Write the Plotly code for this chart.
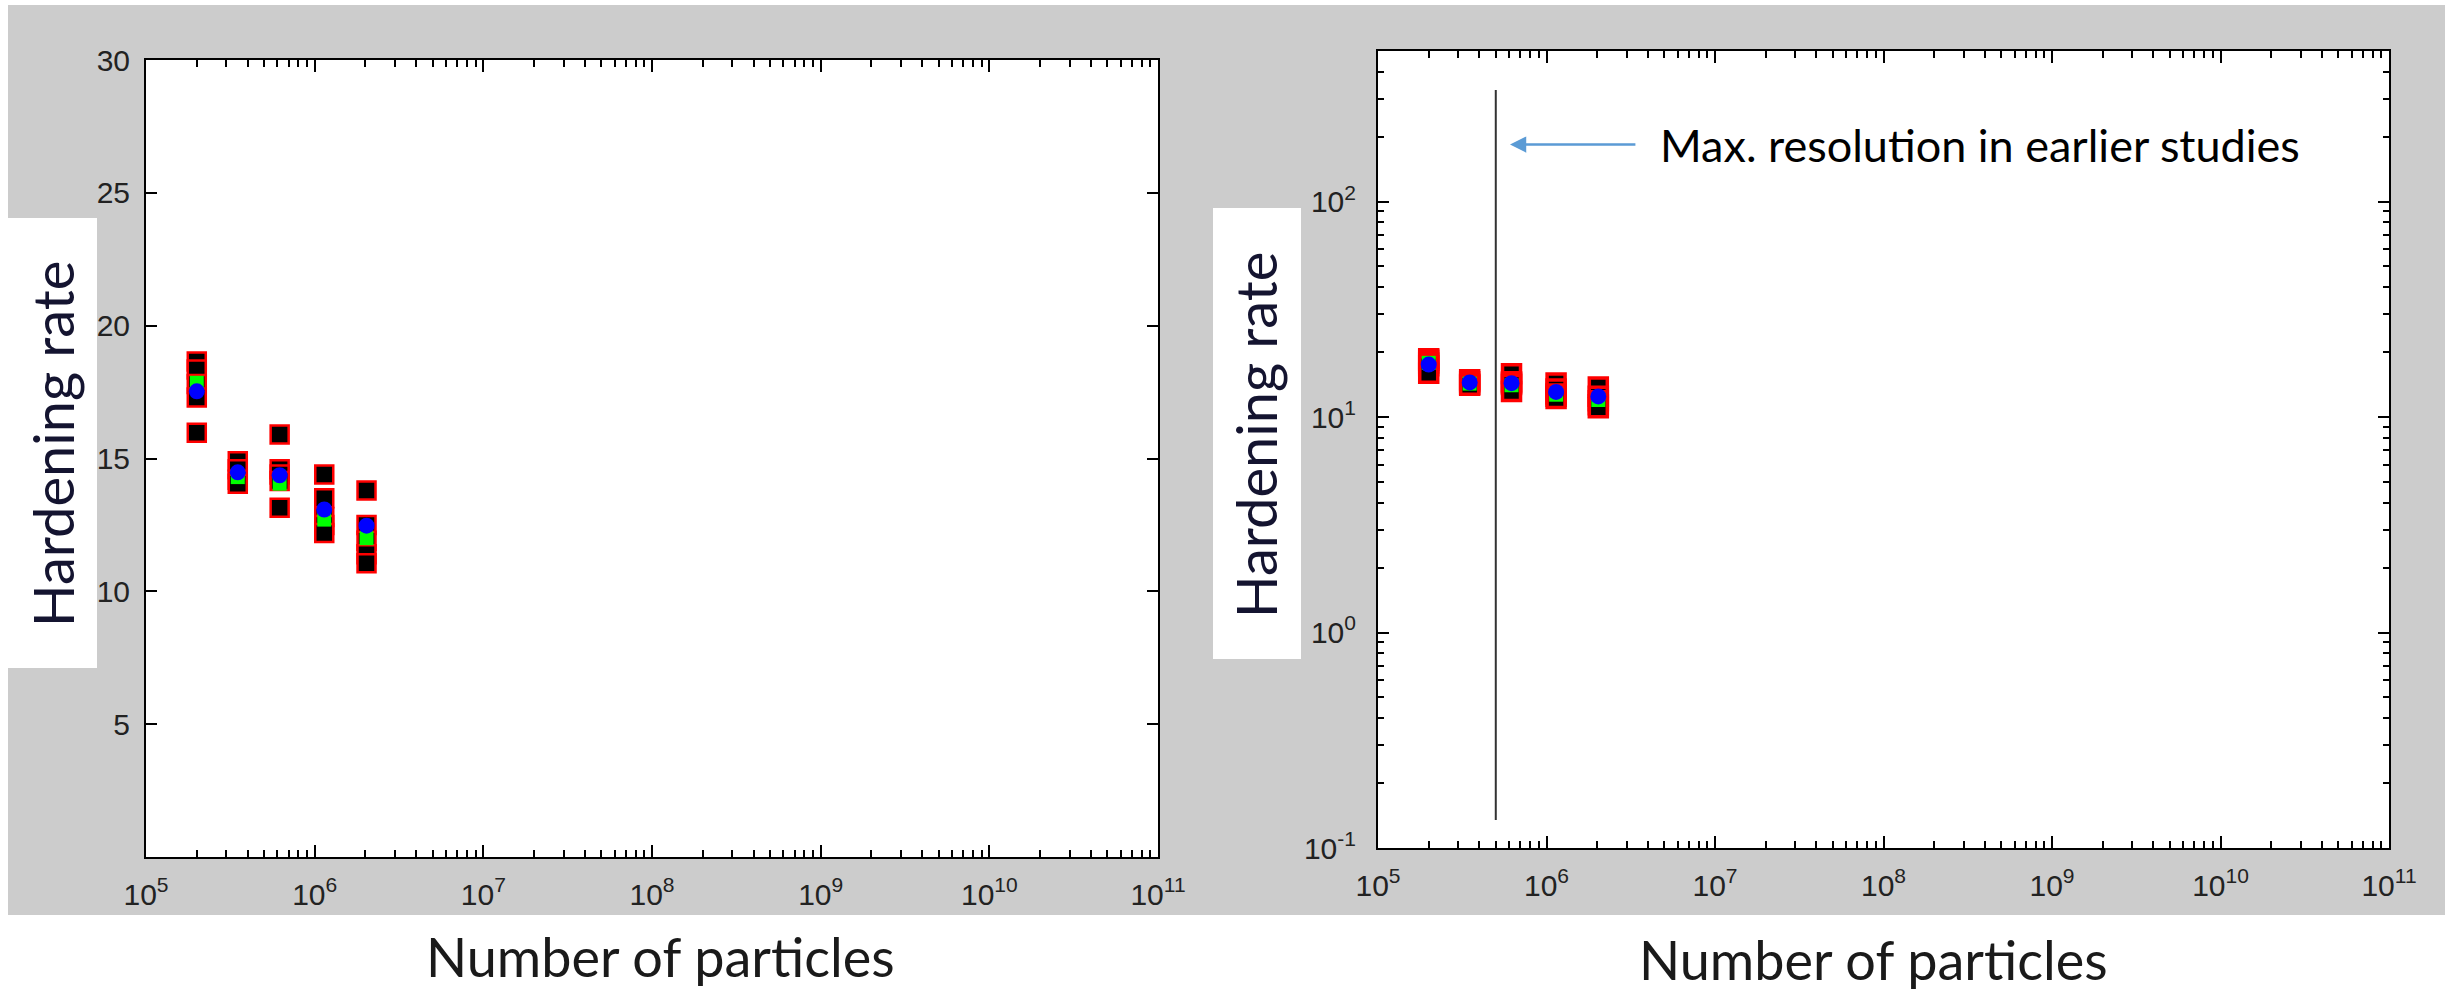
import numpy as np
import plotly.graph_objects as go

W, H = 2445, 995

# ---------------- data ----------------
particles = [2.0e5, 3.5e5, 6.2e5, 1.14e6, 2.03e6]
runs = [
    [18.65, 18.35, 17.8, 17.3, 15.97],
    [14.9, 14.6, 14.2, 14.05],
    [15.9, 14.6, 14.4, 14.15, 13.15],
    [14.4, 13.5, 12.8, 12.5, 12.2],
    [13.8, 12.5, 11.9, 11.4, 11.06],
]
median_vals = [17.85, 14.3, 14.05, 12.7, 12.0]
mean_vals = [17.53, 14.48, 14.37, 13.08, 12.47]

left_yticks = [5, 10, 15, 20, 25, 30]
x_decades = [5, 6, 7, 8, 9, 10, 11]
right_y_decades = [-1, 0, 1, 2]

line_x = [5e5, 5e5]
line_y = [0.135, 330]

arrow_tip_x, arrow_tail_x, arrow_y = 6.07e5, 3.44e6, 184
note_x = 4.59e6
note_text = "Max. resolution in earlier studies"
xlabel = "Number of particles"
ylabel = "Hardening rate"

# flatten runs
run_x = [particles[i] for i, g in enumerate(runs) for _ in g]
run_y = [v for g in runs for v in g]

# ---------------- figure ----------------
fig = go.Figure()

def add_panel(xa, ya, edge_w):
    fig.add_trace(go.Scatter(
        x=run_x, y=run_y, mode="markers", xaxis=xa, yaxis=ya,
        marker=dict(symbol="square", size=18, color="black",
                    line=dict(color="#FF0000", width=edge_w)),
        showlegend=False, hoverinfo="skip"))
    fig.add_trace(go.Scatter(
        x=particles, y=median_vals, mode="markers", xaxis=xa, yaxis=ya,
        marker=dict(symbol="square", size=14, color="#00FF00",
                    line=dict(width=0)),
        showlegend=False, hoverinfo="skip"))
    fig.add_trace(go.Scatter(
        x=particles, y=mean_vals, mode="markers", xaxis=xa, yaxis=ya,
        marker=dict(symbol="circle", size=16, color="#0000FF",
                    line=dict(width=0)),
        showlegend=False, hoverinfo="skip"))

add_panel("x", "y", 2.5)

fig.add_trace(go.Scatter(
    x=line_x, y=line_y, mode="lines", xaxis="x2", yaxis="y2",
    line=dict(color="#333333", width=2), showlegend=False, hoverinfo="skip"))
add_panel("x2", "y2", 3.5)

tickfont = dict(family="Liberation Sans, Arial, sans-serif", size=30, color="#222222")

x_minor = [m * 10.0 ** k for k in x_decades[:-1] for m in range(2, 10)]
y2_minor = [m * 10.0 ** k for k in right_y_decades for m in range(2, 10) if m * 10.0 ** k <= 500]

def xaxis_common(domain, anchor):
    return dict(
        type="log", domain=domain, anchor=anchor,
        range=[x_decades[0], x_decades[-1]],
        tickmode="array",
        tickvals=[10.0 ** k for k in x_decades],
        ticktext=["10<sup>%d</sup>" % k for k in x_decades],
        ticks="inside", ticklen=12, tickwidth=2, tickcolor="black",
        minor=dict(tickmode="array", tickvals=x_minor, ticks="inside",
                   ticklen=7, tickwidth=2, tickcolor="black", showgrid=False),
        showline=True, linecolor="black", linewidth=2, mirror="ticks",
        showgrid=False, zeroline=False, tickfont=tickfont,
        ticklabelstandoff=10, automargin=False,
    )

px = lambda v: v / W
py = lambda v: 1 - v / H

fig.update_layout(
    template="none",
    width=W, height=H,
    autosize=False,
    margin=dict(l=0, r=0, t=0, b=0, pad=0, autoexpand=False),
    paper_bgcolor="#CCCCCC",
    plot_bgcolor="white",
    showlegend=False,
    xaxis=xaxis_common([px(146), px(1158)], "y"),
    yaxis=dict(
        domain=[py(857), py(60)], anchor="x", range=[0, 30],
        tickmode="array", tickvals=left_yticks,
        ticks="inside", ticklen=11, tickwidth=2, tickcolor="black",
        showline=True, linecolor="black", linewidth=2, mirror="ticks",
        showgrid=False, zeroline=False, tickfont=tickfont,
        ticklabelstandoff=8, automargin=False,
    ),
    xaxis2=xaxis_common([px(1378), px(2389)], "y2"),
    yaxis2=dict(
        type="log", domain=[py(848), py(51)], anchor="x2",
        range=[-1, np.log10(500)],
        tickmode="array",
        tickvals=[10.0 ** k for k in right_y_decades],
        ticktext=["10<sup>%d</sup>" % k for k in right_y_decades],
        ticks="inside", ticklen=11, tickwidth=2, tickcolor="black",
        minor=dict(tickmode="array", tickvals=y2_minor, ticks="inside",
                   ticklen=6, tickwidth=2, tickcolor="black", showgrid=False),
        showline=True, linecolor="black", linewidth=2, mirror="ticks",
        showgrid=False, zeroline=False, tickfont=tickfont,
        ticklabelstandoff=14, automargin=False,
    ),
)

# white background regions (outside the gray panel) and label boxes
white_rects = [
    (0, 915, 2445, 995),   # bottom strip
    (0, 0, 2445, 5),       # top strip
    (0, 0, 8, 915),        # left strip
    (8, 218, 97, 668),     # left y-label box
    (1213, 208, 1301, 659) # right y-label box
]
for x0, y0, x1, y1 in white_rects:
    fig.add_shape(type="rect", xref="paper", yref="paper",
                  x0=px(x0), x1=px(x1), y0=py(y1), y1=py(y0),
                  fillcolor="white", line=dict(width=0), layer="below")

labfont = dict(family="Lato, Open Sans, sans-serif", size=56, color="#141430")
fig.add_annotation(xref="paper", yref="paper", x=px(52), y=py(444),
                   text=ylabel, textangle=-90, showarrow=False,
                   font=labfont, xanchor="center", yanchor="middle")
fig.add_annotation(xref="paper", yref="paper", x=px(1255), y=py(435),
                   text=ylabel, textangle=-90, showarrow=False,
                   font=labfont, xanchor="center", yanchor="middle")

xlabfont = dict(family="Lato, Open Sans, sans-serif", size=54, color="#1a1a1a")
fig.add_annotation(xref="paper", yref="paper", x=px(660), y=py(956),
                   text=xlabel, showarrow=False, font=xlabfont,
                   xanchor="center", yanchor="middle")
fig.add_annotation(xref="paper", yref="paper", x=px(1873), y=py(959),
                   text=xlabel, showarrow=False, font=xlabfont,
                   xanchor="center", yanchor="middle")

# arrow and note on right panel
fig.add_annotation(xref="x2", yref="y2",
                   x=np.log10(arrow_tip_x), y=np.log10(arrow_y),
                   axref="x2", ayref="y2",
                   ax=np.log10(arrow_tail_x), ay=np.log10(arrow_y),
                   text="", showarrow=True, arrowhead=2, arrowsize=1.3,
                   arrowwidth=2.5, arrowcolor="#5B9BD5", standoff=0)
fig.add_annotation(xref="x2", yref="y2",
                   x=np.log10(note_x), y=np.log10(arrow_y),
                   text=note_text, showarrow=False,
                   font=dict(family="Lato, Open Sans, sans-serif", size=45, color="black"),
                   xanchor="left", yanchor="middle")

fig.write_html(
    "out.html",
    config={"displayModeBar": False},
    post_script="document.body.style.margin='0';document.body.style.overflow='hidden';",
)
